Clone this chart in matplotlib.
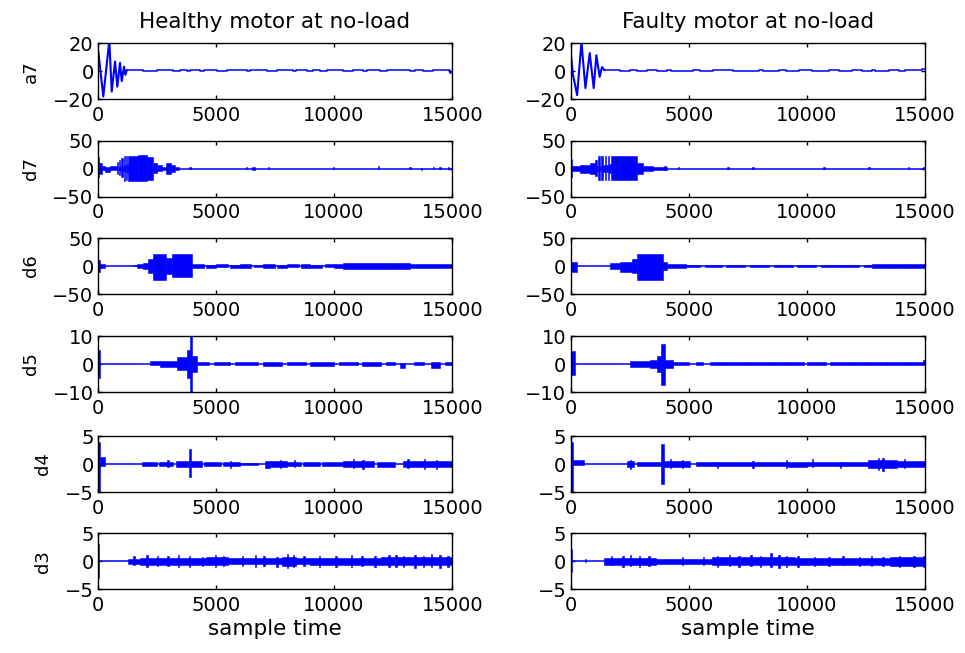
import numpy as np
import matplotlib.pyplot as plt

N_SAMPLES = 15000
BLUE = '#0000ff'

x_ticks = [0, 5000, 10000, 15000]
level_names = ['a7', 'd7', 'd6', 'd5', 'd4', 'd3']
y_limits = [20, 50, 50, 10, 5, 5]
col_titles = ['Healthy motor at no-load', 'Faulty motor at no-load']

# a7 approximation: decaying oscillation (extrema) followed by the flat tail
a7_healthy_x = [0, 25, 237, 491, 593, 733, 830, 944, 1016, 1113, 1169, 1228]
a7_healthy_y = [14, 14, -18, 22, -14.5, 7, -11, 6, -7, 3.3, -2.5, 0.6]
a7_healthy_tail_x = [1228, 1932, 2496, 3200, 3483, 3765, 3900, 4329, 4500, 5034, 5457,
                     6303, 6450, 7149, 7572, 8277, 8400, 8841, 9100, 9405, 9687, 10392,
                     10815, 11238, 11379, 11943, 12225, 13212, 13424, 13776, 14199, 14900, 15000]
a7_healthy_tail_y = [0.6, -0.1, 0.6, -0.1, 0.6, -0.1, 0.6, -0.1, 0.6, -0.1, 0.6,
                     -0.1, 0.6, -0.1, 0.6, -0.1, 0.6, -0.1, 0.6, -0.1, 0.6, -0.1,
                     0.6, -0.1, 0.6, -0.1, 0.6, -0.1, 0.6, -0.1, 0.6, -1.5, -1.5]

a7_faulty_x = [0, 100, 280, 463, 631, 813, 981, 1094, 1234, 1332, 1430]
a7_faulty_y = [15, -2, -17, 21, -12, 13, -12, 11.5, -4, 3, 1.0]
a7_faulty_tail_x = [1430, 2103, 2524, 2804, 3225, 3645, 4066, 4250, 5187, 5468, 6029,
                    6870, 7991, 8150, 8833, 9113, 9674, 10235, 10936, 11356, 11917,
                    12338, 12758, 12900, 13459, 13880, 14160, 14861, 15000]
a7_faulty_tail_y = [1.0, 0.4, 1.0, 0.4, 1.0, 0.4, 1.0, 0.4, 1.0, 0.4, 1.0,
                    0.4, 1.0, 0.4, 1.0, 0.4, 1.0, 0.4, 1.0, 0.4, 1.0,
                    0.4, 1.0, 0.4, 1.0, 0.4, 1.0, 1.5, 1.5]

# detail levels: (start sample, end sample, upper envelope, lower envelope)
d7_healthy = [
    (0, 40, 20, -15), (40, 170, 10, -10), (170, 320, 5, -3), (320, 520, 2, -6),
    (520, 800, 4, -3), (800, 850, 12, -10), (850, 900, 3, -3), (900, 950, 15, -12),
    (950, 1000, 4, -4), (1000, 1050, 18, -16), (1050, 1100, 5, -5), (1100, 1150, 23, -23),
    (1150, 1200, 6, -6), (1200, 1250, 22, -20), (1250, 1300, 8, -8), (1300, 1700, 22, -22),
    (1700, 2100, 24, -23), (2100, 2355, 20, -20), (2355, 2500, 9, -8), (2500, 2700, 6, -5),
    (2700, 2900, 3, -3), (2900, 3100, 10, -9), (3100, 3250, 6, -6), (3250, 3420, 2, -2),
    (3880, 3940, 2.5, -0.5), (6260, 6320, 2, -0.5), (6540, 6640, 3, -2),
    (7190, 7250, 2.5, -0.5), (9950, 10010, 2, -0.5), (11850, 11910, 4, -0.5),
    (13190, 13250, 2, -0.5), (13680, 13740, 0.5, -3), (14180, 14240, 2, -0.5),
    (14460, 14520, 2, -0.5), (14820, 14880, 2, -0.5),
]
d6_healthy = [
    (0, 100, 10, -10), (100, 310, 3, -3), (1500, 1650, 2, -0.5), (1650, 1900, 3, -4),
    (1900, 2140, 5, -5), (2140, 2350, 12, -12), (2350, 2900, 22, -25), (2900, 3130, 14, -14),
    (3130, 3980, 22, -20), (3980, 4500, 3, -3), (4600, 5000, 2.5, -3), (5000, 5500, 3, -2.5),
    (5600, 6000, 2.5, -3), (6000, 6500, 3, -3), (6600, 7000, 2.5, -2.5), (7000, 7500, 3, -3),
    (7600, 8000, 2.5, -3), (8000, 8500, 3, -2.5), (8600, 9000, 3, -3), (9000, 9500, 2.5, -3),
    (9600, 10000, 3, -2.5), (10000, 10400, 3, -3), (10400, 10800, 5.5, -4.5), (10800, 11200, 4.5, -5.5),
    (11200, 11600, 5.5, -4.5), (11600, 12000, 4.5, -4.5), (12000, 12400, 5.5, -5.5), (12400, 12800, 4.5, -4.5),
    (12800, 13200, 5.5, -4.5), (13200, 13600, 3, -3), (13600, 14000, 4, -3),
    (14000, 14400, 3, -4), (14400, 15000, 4, -3),
]
d5_healthy = [
    (0, 100, 5, -5), (2214, 2637, 1, -0.2), (2637, 3340, 1, -1), (3340, 3760, 2.5, -2.2),
    (3760, 3900, 5, -5), (3900, 4000, 11, -11), (4000, 4190, 3, -3), (4190, 4700, 0.8, -0.3),
    (4900, 5600, 0.7, -0.4), (5800, 6800, 0.8, -0.3), (7000, 7800, 0.7, -0.6),
    (8000, 8800, 0.8, -0.4), (9000, 10000, 0.7, -0.6), (10200, 11000, 0.8, -0.4),
    (11200, 12000, 0.7, -0.6), (12200, 12600, 0.8, -0.4), (12800, 13000, 0.5, -1.5),
    (13400, 13800, 0.8, -0.4), (14100, 14500, 0.7, -1.5), (14700, 15000, 0.7, -0.4),
]
d4_healthy = [
    (0, 100, 4, -5), (100, 300, 1.2, -0.3), (1860, 2500, 0.35, -0.35), (2600, 3200, 0.3, -0.4),
    (3300, 3850, 0.5, -0.5), (3850, 3960, 2.7, -2.3), (3960, 4400, 0.5, -0.6),
    (4500, 5200, 0.35, -0.35), (5300, 6000, 0.3, -0.3), (6000, 6800, 0.25, -0.25),
    (7100, 7300, 0.5, -0.8), (7300, 8000, 0.45, -0.45), (8000, 8600, 0.35, -0.35),
    (8700, 9400, 0.3, -0.35), (9500, 10400, 0.35, -0.35), (10400, 11700, 0.55, -0.55),
    (11800, 12600, 0.35, -0.45), (12900, 13300, 0.6, -0.6), (13300, 15000, 0.5, -0.5),
    (2950, 3010, 0.7, -0.6), (5600, 5660, 0.6, -0.7), (7700, 7760, 0.8, -0.7),
    (8300, 8360, 0.7, -0.6), (10800, 10860, 0.9, -0.8), (11200, 11260, 0.8, -0.9),
    (13100, 13160, 0.9, -0.8), (13800, 13860, 0.9, -0.9), (14300, 14360, 0.8, -0.9),
]
d3_healthy = [
    (0, 60, 3, -3), (1300, 1800, 0.5, -0.4), (1800, 3200, 0.6, -0.6), (3200, 4600, 0.6, -0.6),
    (4600, 5500, 0.7, -0.7), (5500, 7800, 0.55, -0.55), (7800, 8400, 0.8, -0.8),
    (8400, 9000, 0.5, -0.5), (9000, 10500, 0.6, -0.6), (10500, 12000, 0.65, -0.65),
    (12000, 15000, 0.75, -0.75),
    (1500, 1560, 1.0, -0.6), (2050, 2110, 1.2, -1.0), (2500, 2560, 0.9, -0.8),
    (2950, 3010, 1.0, -0.9), (3400, 3460, 1.1, -1.0), (3850, 3910, 0.9, -1.1),
    (4400, 4460, 0.8, -0.9), (4950, 5010, 1.1, -1.1), (5300, 5360, 1.0, -0.9),
    (6100, 6160, 0.9, -0.8), (6650, 6710, 1.1, -1.0), (7000, 7060, 1.0, -0.9),
    (7550, 7610, 0.8, -1.0), (8000, 8060, 1.3, -1.2), (8250, 8310, 1.2, -1.0),
    (8700, 8760, 0.9, -0.9), (9350, 9410, 1.0, -1.1), (10050, 10110, 0.9, -1.0),
    (10700, 10760, 1.1, -1.0), (11150, 11210, 1.0, -0.9), (11700, 11760, 0.9, -1.0),
    (12300, 12360, 1.2, -1.1), (12600, 12660, 1.1, -1.0), (12900, 12960, 1.0, -1.1),
    (13400, 13460, 1.1, -1.2), (13750, 13810, 1.0, -1.0), (14100, 14160, 1.3, -1.1),
    (14450, 14510, 1.1, -1.2), (14800, 14860, 0.9, -1.0),
]

d7_faulty = [
    (0, 70, 17, -16), (70, 420, 5, -5), (420, 840, 7, -8), (840, 1050, 10, -10),
    (1050, 1120, 16, -14), (1120, 1180, 4, -4), (1180, 1250, 22, -20), (1250, 1310, 5, -5),
    (1310, 1380, 23, -21), (1380, 1440, 6, -6), (1440, 1510, 23, -21), (1510, 1570, 6, -6),
    (1570, 1640, 22, -21), (1640, 1700, 8, -8), (1700, 2100, 23, -21), (2100, 2800, 22, -21),
    (2800, 3080, 10, -10), (3080, 3500, 5, -5), (3500, 4070, 3, -3), (3950, 4020, 5, -3),
    (4540, 4600, 3, -0.5), (6620, 6720, 3, -0.5), (7690, 7750, 3, -0.5),
    (10700, 10760, 2, -0.5), (12600, 12660, 2, -0.5), (14280, 14340, 2, -0.5),
    (14920, 15000, 3, -1),
]
d6_faulty = [
    (0, 280, 8, -10), (1680, 2100, 5, -6), (2100, 2590, 8, -10), (2590, 2800, 12, -12),
    (2800, 3920, 22, -25), (3920, 4070, 8, -8), (4070, 4900, 4, -4), (4900, 5500, 2, -2),
    (5700, 6400, 2, -2), (6600, 7400, 2, -2), (7600, 8400, 2.5, -2), (8600, 9400, 2, -2),
    (9600, 10400, 2, -2.5), (10600, 11400, 2, -2), (11400, 12200, 2.5, -2),
    (12400, 12760, 2, -2), (12760, 13600, 4, -4), (13600, 14200, 3, -3),
    (14200, 15000, 4, -4),
]
d5_faulty = [
    (0, 180, 4.5, -4), (2520, 3360, 1, -1), (3360, 3640, 1.5, -1.5), (3640, 3850, 3, -3),
    (3850, 4000, 7, -7.5), (4000, 4350, 1.5, -1.5), (4350, 5000, 0.6, -0.3),
    (5300, 5600, 0.8, -0.3), (5900, 6600, 0.6, -0.3), (6600, 7500, 0.6, -0.3),
    (7500, 8400, 0.7, -0.4), (8400, 9200, 0.6, -0.4), (9200, 9900, 0.6, -0.5),
    (10000, 10800, 0.6, -0.3), (11000, 11800, 0.7, -0.3), (11800, 12600, 0.6, -0.4),
    (12600, 13400, 0.6, -0.4), (13400, 14200, 0.7, -0.4), (14200, 14900, 0.6, -0.3),
    (14900, 15000, 1.5, -0.5),
]
d4_faulty = [
    (0, 100, 4, -5), (100, 560, 0.8, -0.2), (2380, 2700, 0.5, -0.6), (2800, 3300, 0.35, -0.35),
    (3300, 3850, 0.35, -0.35), (3850, 3960, 3.5, -3.5), (3960, 4400, 0.5, -0.5),
    (4400, 5050, 0.5, -0.5), (5300, 6000, 0.3, -0.3), (6000, 6800, 0.3, -0.4),
    (6800, 7600, 0.3, -0.35), (7600, 8400, 0.35, -0.35), (8400, 9200, 0.4, -0.4),
    (9200, 10000, 0.3, -0.5), (10000, 10800, 0.35, -0.35), (10800, 11600, 0.3, -0.4),
    (11600, 12600, 0.35, -0.35), (12600, 13800, 0.65, -0.7), (13800, 15000, 0.5, -0.5),
    (2500, 2560, 0.8, -0.9), (4200, 4260, 0.9, -0.8), (4700, 4760, 0.8, -0.7),
    (6200, 6260, 0.4, -0.8), (7700, 7760, 0.5, -0.7), (9100, 9160, 0.8, -0.8),
    (10200, 10260, 0.9, -0.6), (11400, 11460, 0.4, -0.8), (13000, 13060, 1.0, -1.0),
    (13200, 13260, 1.1, -1.2), (14100, 14160, 0.9, -0.8),
]
d3_faulty = [
    (0, 50, 2.2, -2), (600, 660, 0.5, -0.2), (1400, 3600, 0.6, -0.6), (3600, 6000, 0.45, -0.45),
    (6000, 9500, 0.7, -0.7), (9500, 13500, 0.55, -0.6), (13500, 15000, 0.8, -0.8),
    (1700, 1760, 0.9, -0.7), (2200, 2260, 1.0, -1.0), (2500, 2560, 1.2, -0.9),
    (2900, 2960, 1.0, -1.1), (3300, 3360, 0.9, -0.8), (4700, 4760, 0.8, -0.6),
    (5600, 5660, 0.7, -0.7), (6200, 6260, 0.9, -1.1), (6700, 6760, 1.1, -0.9),
    (7100, 7160, 1.0, -1.0), (7600, 7660, 1.2, -0.9), (8000, 8060, 1.0, -1.1),
    (8450, 8510, 1.5, -1.0), (8800, 8860, 1.1, -1.2), (9100, 9160, 1.0, -1.1),
    (9600, 9660, 0.9, -1.0), (10300, 10360, 0.8, -0.9), (10900, 10960, 0.8, -0.8),
    (11500, 11560, 0.9, -0.7), (12200, 12260, 0.8, -0.8), (12700, 12760, 0.9, -0.9),
    (13200, 13260, 0.7, -0.9), (13900, 13960, 1.0, -1.0), (14500, 14560, 0.9, -1.1),
    (14900, 14960, 1.0, -1.0),
]

healthy_details = [d7_healthy, d6_healthy, d5_healthy, d4_healthy, d3_healthy]
faulty_details = [d7_faulty, d6_faulty, d5_faulty, d4_faulty, d3_faulty]

# axes placement in pixels (top edge of each row, left edge of each column)
FIG_W, FIG_H = 965, 653
row_tops = [43.3, 140.5, 238, 336, 436, 533.3]
col_lefts = [97.7, 570.5]
AX_W, AX_H = 354.5, 56


def draw_bursts(ax, segments):
    starts = np.array([s[0] for s in segments], dtype=float)
    ends = np.array([s[1] for s in segments], dtype=float)
    highs = np.array([s[2] for s in segments], dtype=float)
    lows = np.array([s[3] for s in segments], dtype=float)
    ax.plot([0, N_SAMPLES], [0, 0], color=BLUE, lw=1.1)
    ax.bar(starts, highs - lows, width=ends - starts, bottom=lows, align='edge',
           color=BLUE, edgecolor=BLUE, linewidth=0.4)


def draw_a7(ax, osc_x, osc_y, tail_x, tail_y):
    ax.plot(osc_x, osc_y, color=BLUE, lw=1.5)
    ax.step(tail_x, tail_y, where='post', color=BLUE, lw=1.1)


def style_axes(ax, lim):
    ax.set_xlim(0, N_SAMPLES)
    ax.set_ylim(-lim, lim)
    ax.set_xticks(x_ticks)
    ax.set_yticks([-lim, 0, lim])
    ax.tick_params(direction='in', top=True, right=True, length=3, width=1,
                   labelsize=14, colors='black')
    ax.tick_params(axis='y', pad=3)
    ax.tick_params(axis='x', pad=5)
    for sp in ax.spines.values():
        sp.set_linewidth(1.0)


def main():
    plt.rcParams['font.family'] = ['DejaVu Sans']
    fig = plt.figure(figsize=(FIG_W / 100, FIG_H / 100), dpi=100)

    for col in range(2):
        for row in range(6):
            left = col_lefts[col] / FIG_W
            bottom = 1 - (row_tops[row] + AX_H) / FIG_H
            ax = fig.add_axes([left, bottom, AX_W / FIG_W, AX_H / FIG_H])

            if row == 0:
                if col == 0:
                    draw_a7(ax, a7_healthy_x, a7_healthy_y, a7_healthy_tail_x, a7_healthy_tail_y)
                else:
                    draw_a7(ax, a7_faulty_x, a7_faulty_y, a7_faulty_tail_x, a7_faulty_tail_y)
                ax.set_title(col_titles[col], fontsize=15.5, pad=11)
            else:
                details = healthy_details if col == 0 else faulty_details
                draw_bursts(ax, details[row - 1])

            style_axes(ax, y_limits[row])
            if col == 0:
                ax.set_ylabel(level_names[row], fontsize=13, labelpad=9)
            if row == 5:
                ax.set_xlabel('sample time', fontsize=15.5, labelpad=3)

    fig.savefig('out.png', dpi=100)


if __name__ == "__main__":
    main()
